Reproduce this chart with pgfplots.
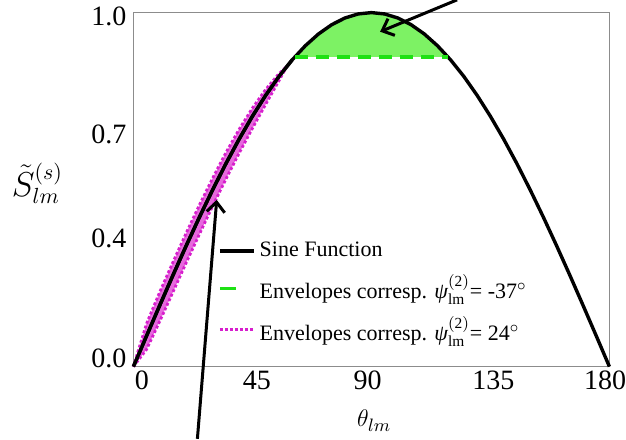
\documentclass[border=0pt]{standalone}
\usepackage{fontspec}
\setmainfont{Liberation Serif}
\usepackage{pgfplots}
\pgfplotsset{compat=1.18}
\usetikzlibrary{arrows.meta}

\definecolor{sinegreen}{RGB}{125,242,100}
\definecolor{dashgreen}{RGB}{30,225,20}
\definecolor{envmag}{RGB}{215,30,205}
\definecolor{fillmag}{RGB}{230,105,220}
\definecolor{axgray}{RGB}{140,140,140}

\newcommand{\psilm}{\hbox{\itshape ψ}^{\mathrm{(2)}}_{\mathrm{lm}}}

% legend sample made of a single short dash
\pgfplotsset{shortdash legend/.style={
  legend image code/.code={\draw[##1, dash pattern=on 8pt off 20pt] (0pt,0pt) -- (17pt,0pt);}}}

\begin{document}
\begin{tikzpicture}
\begin{axis}[
  scale only axis,
  width=238pt, height=177pt,
  xmin=0, xmax=180, ymin=0, ymax=1,
  clip=false,
  axis line style={axgray, line width=0.5pt},
  major tick length=0pt,
  xtick={3.2,46.7,88.6,136.1,178.4},
  xticklabels={0,45,90,135,180},
  ytick={0.0245,0.361,0.657,0.988},
  yticklabels={0.0,0.4,0.7,1.0},
  tick label style={font=\fontsize{14}{16}\selectfont},
  xticklabel style={yshift=1.5pt},
  every axis x label/.style={at={(rel axis cs:0.506,0)}, anchor=center, yshift=-27pt},
  every axis y label/.style={at={(rel axis cs:0,0.519)}, anchor=center, xshift=-48pt},
  xlabel={\fontsize{13}{15}\selectfont $\theta_{lm}$},
  ylabel={\fontsize{16}{18}\selectfont $\tilde{S}^{(s)}_{lm}$},
  legend cell align=left,
  legend style={draw=none, fill=none, font=\fontsize{11}{13}\selectfont,
    at={(rel axis cs:0.173,0.369)}, anchor=north west, row sep=3.5pt,
    inner sep=1pt},
]
\coordinate (bl) at (rel axis cs:0,0);
\coordinate (tr) at (rel axis cs:1,1);

% green region between the sine cap and its envelope level
\addplot[fill=sinegreen, draw=none, forget plot] coordinates {
  (61,0.8746) (65,0.9063) (70,0.9397) (75,0.9659) (80,0.9848) (85,0.9962)
  (90,1.0000) (95,0.9962) (100,0.9848) (105,0.9659) (110,0.9397)
  (115,0.9063) (119,0.8746)} -- cycle;

% magenta band between the two envelopes
\addplot[fill=fillmag, draw=none, forget plot] coordinates {
  (0,0) (5,0.1219) (10,0.2113) (15,0.2957) (20,0.3778) (25,0.4571)
  (30,0.5329) (35,0.6046) (40,0.6704) (45,0.7302) (50,0.7826) (55,0.8271)
  (58,0.8480)
  (55,0.8070) (50,0.7408) (45,0.6730) (40,0.6032) (35,0.5299) (30,0.4540)
  (25,0.3746) (20,0.2940) (15,0.2113) (10,0.1288) (5,0.0488)} -- cycle;

% sine function
\addplot[black, line width=1.7pt] coordinates {
  (0,0) (5,0.0872) (10,0.1736) (15,0.2588) (20,0.3420) (25,0.4226)
  (30,0.5000) (35,0.5736) (40,0.6428) (45,0.7071) (50,0.7660) (55,0.8192)
  (60,0.8660) (65,0.9063) (70,0.9397) (75,0.9659) (80,0.9848) (85,0.9962)
  (90,1.0000) (95,0.9962) (100,0.9848) (105,0.9659) (110,0.9397)
  (115,0.9063) (120,0.8660) (125,0.8192) (130,0.7660) (135,0.7071)
  (140,0.6428) (145,0.5736) (150,0.5000) (155,0.4226) (160,0.3420)
  (165,0.2588) (170,0.1736) (175,0.0872) (180,0)};
\addlegendentry{Sine Function}

% envelope level for psi = -37 deg
\addplot[dashgreen, line width=1.7pt, dash pattern=on 6.5pt off 4pt, shortdash legend]
  coordinates {(61,0.8746) (119,0.8746)};
\addlegendentry{Envelopes corresp. $\psilm$= -37$^{\circ}$}

% envelopes for psi = 24 deg
\addplot[envmag, line width=1.4pt, dash pattern=on 1.4pt off 1.1pt] coordinates {
  (0,0) (5,0.1219) (10,0.2113) (15,0.2957) (20,0.3778) (25,0.4571)
  (30,0.5329) (35,0.6046) (40,0.6704) (45,0.7302) (50,0.7826) (55,0.8271)
  (58,0.8480)};
\addlegendentry{Envelopes corresp. $\psilm$= 24$^{\circ}$}
\addplot[envmag, line width=1.4pt, dash pattern=on 1.4pt off 1.1pt, forget plot] coordinates {
  (0,0) (5,0.0488) (10,0.1288) (15,0.2113) (20,0.2940) (25,0.3746)
  (30,0.4540) (35,0.5299) (40,0.6032) (45,0.6730) (50,0.7408) (55,0.8070)
  (58,0.8480)};

% redraw the sine over the band
\addplot[black, line width=1.7pt, forget plot] coordinates {
  (0,0) (5,0.0872) (10,0.1736) (15,0.2588) (20,0.3420) (25,0.4226)
  (30,0.5000) (35,0.5736) (40,0.6428) (45,0.7071) (50,0.7660) (55,0.8192)
  (60,0.8660)};

% pointers to the two regions
\draw[black, line width=1.5pt, -{Straight Barb[length=5pt,width=9pt]}]
  (axis cs:122.4,1.036) -- (axis cs:93.3,0.946);
\draw[black, line width=1.5pt, -{Straight Barb[length=5pt,width=9pt]}]
  (axis cs:24.2,-0.204) -- (axis cs:31.5,0.471);
\end{axis}
\pgfresetboundingbox
\path[use as bounding box] ([shift={(-66.7pt,-36.2pt)}]bl) rectangle ([shift={(8.3pt,6.3pt)}]tr);
\end{tikzpicture}
\end{document}
